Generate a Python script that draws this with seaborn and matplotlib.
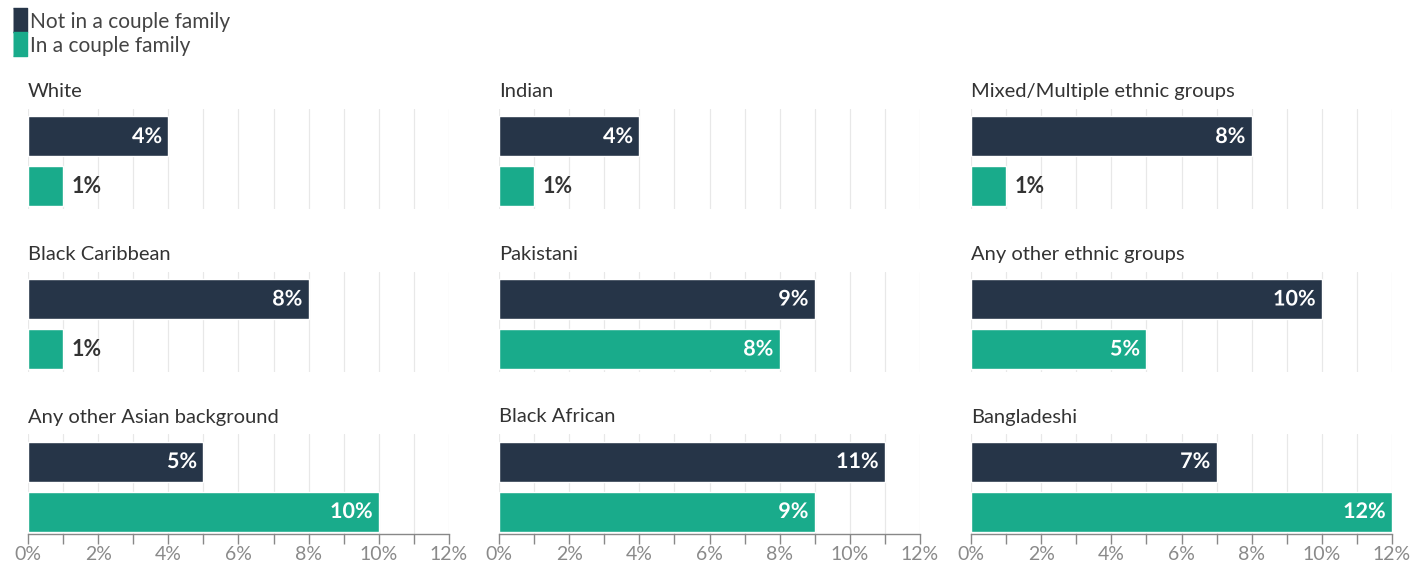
import pandas as pd
import numpy as np
import matplotlib.pyplot as plt
import matplotlib.patheffects as pe
from matplotlib.lines import Line2D
import seaborn as sns

# data (percent)
groups = ['White', 'Indian', 'Mixed/Multiple ethnic groups',
          'Black Caribbean', 'Pakistani', 'Any other ethnic groups',
          'Any other Asian background', 'Black African', 'Bangladeshi']
not_couple = [4, 4, 8, 8, 9, 10, 5, 11, 7]
in_couple = [1, 1, 1, 1, 8, 5, 10, 9, 12]
series = ['Not in a couple family', 'In a couple family']
colors = ['#263548', '#19ab8b']
xticks = [0, 2, 4, 6, 8, 10, 12]

sns.set_style('white')
plt.rcParams['font.family'] = ['Lato', 'DejaVu Sans']

fig = plt.figure(figsize=(14.24, 5.66), dpi=100)
W, H = 1424, 566
col_left = [28, 499, 971]
col_width = 421
row_top = [109, 271.5, 434]
ax_h = 100

for i, g in enumerate(groups):
    r, c = divmod(i, 3)
    ax = fig.add_axes([col_left[c] / W, 1 - (row_top[r] + ax_h) / H,
                       col_width / W, ax_h / H])
    df = pd.DataFrame({'series': series,
                       'value': [not_couple[i], in_couple[i]]})
    for x in range(0, 13):
        ax.axvline(x, color='#e8e8e8', lw=0.9, zorder=0)
    sns.barplot(data=df, x='value', y='series', hue='series',
                palette=colors, saturation=1, orient='h', width=0.8,
                legend=False, ax=ax, zorder=2)
    ax.set_xlim(0, 12)
    ax.set_ylim(1.45, -0.55)
    ax.set_xlabel('')
    ax.set_ylabel('')
    ax.set_yticks([])
    for s in ['top', 'right', 'left']:
        ax.spines[s].set_visible(False)
    if r == 2:
        ax.spines['bottom'].set_color('#888888')
        ax.spines['bottom'].set_linewidth(1)
        ax.set_xticks(range(0, 13))
        ax.set_xticklabels([f'{x}%' if x in xticks else '' for x in range(0, 13)],
                           color='#8a8a8a', fontsize=14)
        ax.tick_params(axis='x', direction='out', length=7, width=1,
                       color='#888888', pad=2, bottom=True)
    else:
        ax.spines['bottom'].set_visible(False)
        ax.set_xticks([])
    ax.text(0, -0.72, g, fontsize=14.5, color='#333333',
            va='bottom', ha='left')
    for j, v in enumerate(df['value']):
        if v >= 2:
            ax.text(v - 0.18, j, f'{v}%', ha='right', va='center',
                    fontsize=15.5, fontweight='bold', color='white',
                    path_effects=[pe.withStroke(linewidth=2.5, foreground=colors[j])],
                    zorder=3)
        else:
            ax.text(v + 0.25, j, f'{v}%', ha='left', va='center',
                    fontsize=15.5, fontweight='bold', color='#333333', zorder=3)

box = [(-0.6, -1), (0.6, -1), (0.6, 1), (-0.6, 1)]
handles = [Line2D([0], [0], marker=box, color='none', markerfacecolor=col,
                  markeredgecolor=col, markersize=17) for col in colors]
fig.legend(handles, series, loc='upper left', bbox_to_anchor=(0.003, 0.998),
           frameon=False, handlelength=0.5, handletextpad=0.25,
           labelspacing=0.2, fontsize=15, labelcolor='#444444',
           borderaxespad=0.1)

fig.savefig('out.png', dpi=100)
